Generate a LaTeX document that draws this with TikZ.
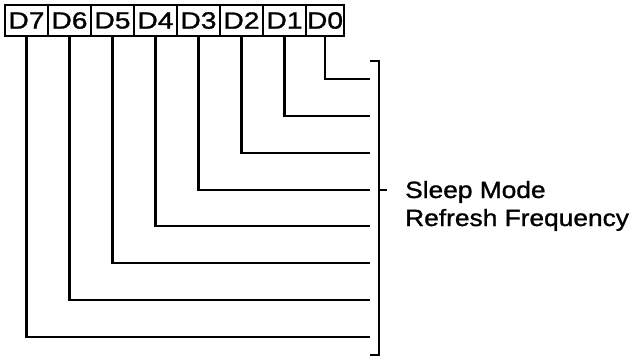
\documentclass[tikz,border=0pt]{standalone}
\usepackage{fontspec}
\setmainfont{Liberation Sans}
\newfontfamily\lblfont[FakeStretch=1.12,FakeBold=1.2]{Liberation Sans}
\newfontfamily\boxfont[FakeStretch=1.2,FakeBold=1.2]{Liberation Sans}
\begin{document}
\begin{tikzpicture}[x=1pt,y=-1pt,
  bitbox/.style={draw, line width=1.8pt, minimum width=43pt, minimum height=31pt, inner sep=0pt, outer sep=0pt, font=\boxfont\fontsize{23.5}{23.5}\selectfont},
  wire/.style={line width=2.7pt, line cap=butt, line join=miter},
  lbl/.style={anchor=base west, inner sep=0pt, font=\lblfont\fontsize{23.5}{28}\selectfont}]
\useasboundingbox (0,0) rectangle (635,357);
\node[bitbox, anchor=north west] (b7) at (5,5) {D7};
\node[bitbox, anchor=north west] (b6) at (b7.north east) {D6};
\node[bitbox, anchor=north west] (b5) at (b6.north east) {D5};
\node[bitbox, anchor=north west] (b4) at (b5.north east) {D4};
\node[bitbox, anchor=north west] (b3) at (b4.north east) {D3};
\node[bitbox, anchor=north west] (b2) at (b3.north east) {D2};
\node[bitbox, anchor=north west] (b1) at (b2.north east) {D1};
\node[bitbox, anchor=north west, minimum width=38pt] (b0) at (b1.north east) {D0};
\foreach \i/\y in {0/79,1/116,2/153,3/190,4/226,5/263,6/300,7/337} {
  \coordinate (e\i) at (370,\y);
  \draw[wire] (b\i.south) |- (e\i);
}
\coordinate (bt) at (370,61);
\coordinate (bb) at (370,355);
\coordinate (tk) at (387,190);
\draw[wire] (bt) -- (379,61) -- (379,355) -- (bb);
\draw[wire] (379,190) -- (tk);
\node[lbl] (sleep) at (405,198) {Sleep Mode};
\node[lbl] (refresh) at (405,226) {Refresh Frequency};
\end{tikzpicture}
\end{document}
